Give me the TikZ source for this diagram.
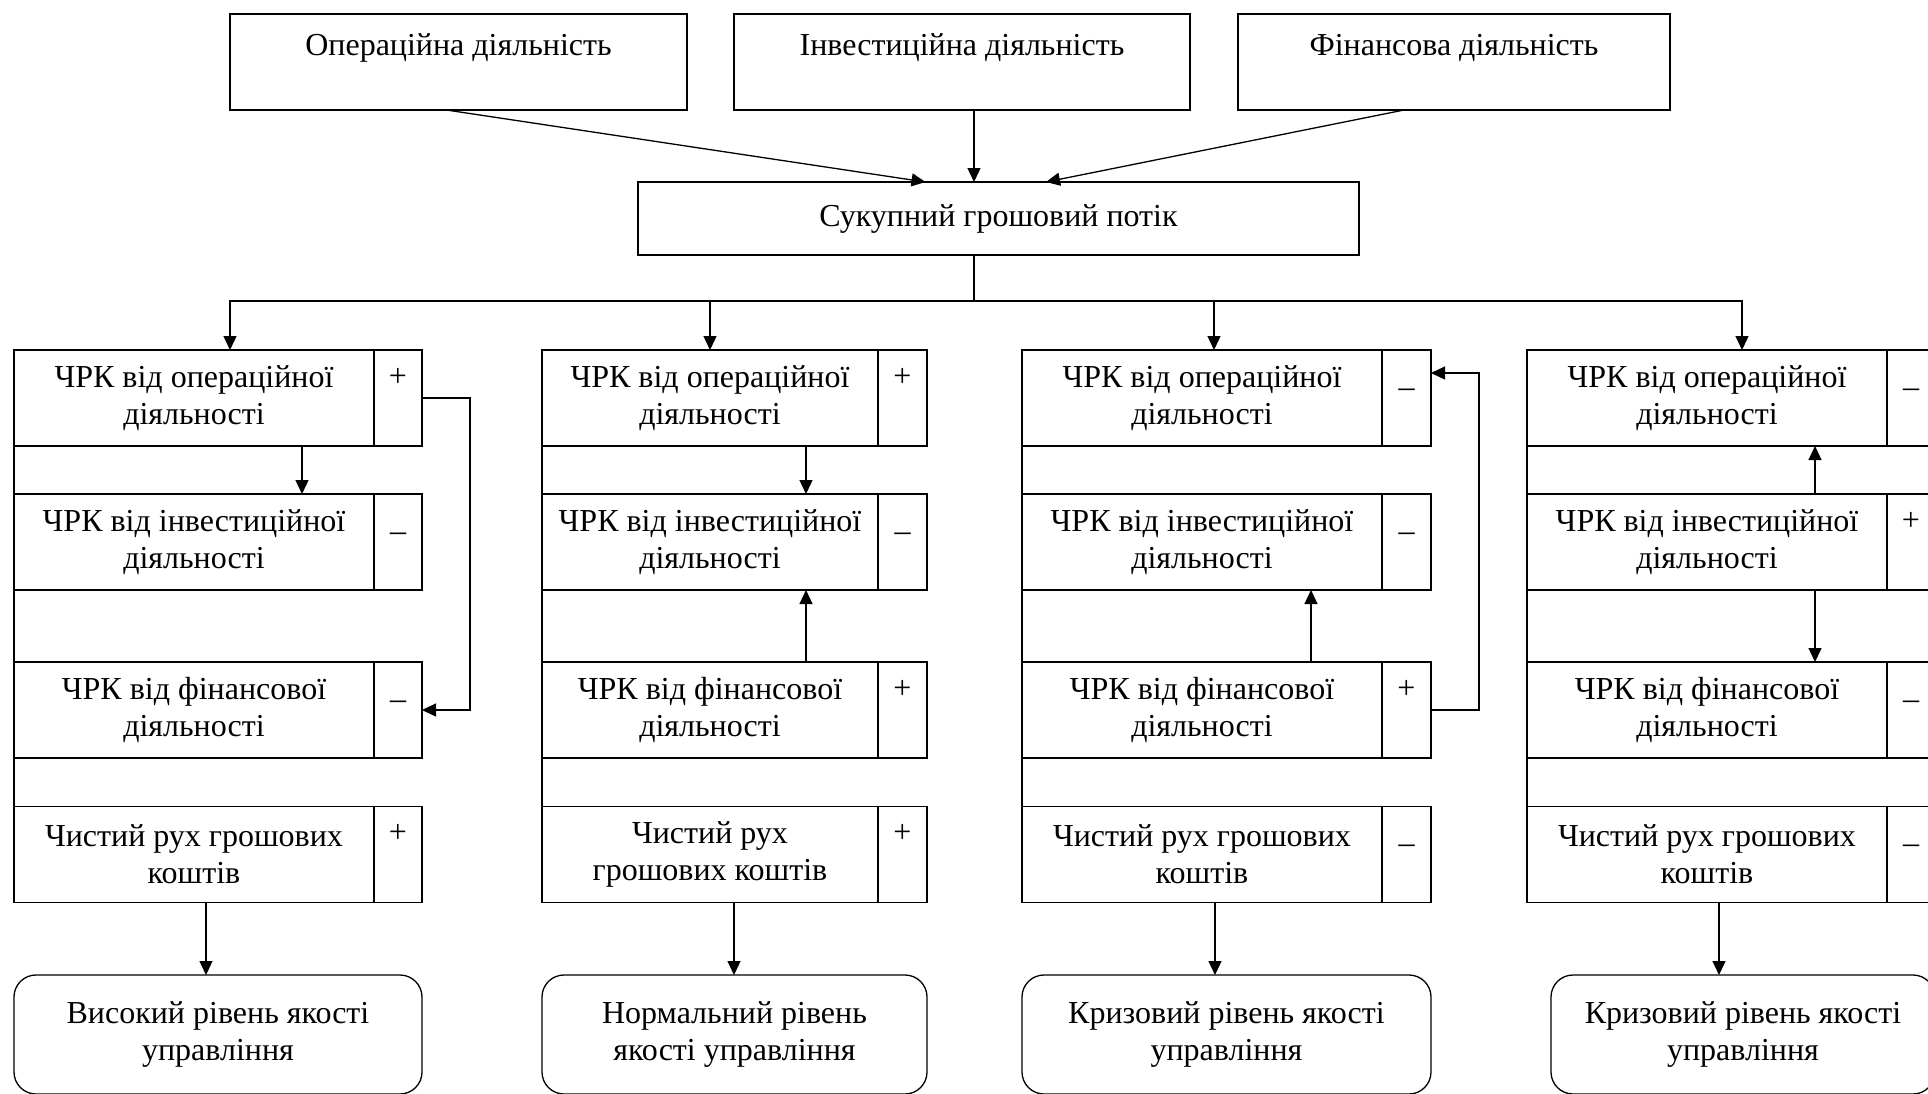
\documentclass[tikz,border=0pt]{standalone}
\usepackage{fontspec}
\setmainfont{Liberation Serif}
\usetikzlibrary{arrows.meta}

\begin{document}
\begin{tikzpicture}[x=1pt, y=-1pt, line width=1.3pt,
  every node/.style={draw, inner sep=0pt, outer sep=0pt, align=center, font=\fontsize{32}{37}\selectfont},
  topbox/.style={minimum height=96pt, text height=41pt, text depth=55pt},
  rowbox/.style={minimum width=360pt, minimum height=96pt},
  signbox/.style={minimum width=48pt, minimum height=96pt, text height=36pt, text depth=60pt},
  resbox/.style={rounded corners=22pt, minimum height=119pt},
  arr/.style={-{Triangle[length=14pt, width=13pt]}}]
\useasboundingbox (0,0) rectangle (1928,1093);

\node[topbox, minimum width=457pt] (op) at (458.5,62) {Операційна діяльність};
\node[topbox, minimum width=456pt] (inv) at (962,62) {Інвестиційна діяльність};
\node[topbox, minimum width=432pt] (fin) at (1454,62) {Фінансова діяльність};
\node[minimum width=721pt, minimum height=73pt] (sum) at (998.5,218.5) {Сукупний грошовий потік};

\draw[arr] ([xshift=-12pt]op.south) -- ([xshift=-73pt]sum.north);
\draw[arr] ([xshift=12pt]inv.south) -- ([xshift=-24.5pt]sum.north);
\draw[arr] ([xshift=-50pt]fin.south) -- ([xshift=47.5pt]sum.north);

% column 1
\node[rowbox] (c1a) at (194,398) {ЧРК від операційної\\діяльності};
\node[signbox] (c1as) at (398,398) {+};
\node[rowbox] (c1b) at (194,542) {ЧРК від інвестиційної\\діяльності};
\node[signbox] (c1bs) at (398,542) {\_};
\node[rowbox] (c1c) at (194,710) {ЧРК від фінансової\\діяльності};
\node[signbox] (c1cs) at (398,710) {\_};
\node[rowbox] (c1d) at (194,854.5) {Чистий рух грошових\\коштів};
\node[signbox] (c1ds) at (398,854.5) {+};
\node[resbox, minimum width=408pt] (res1) at (218,1034.5) {Високий рівень якості\\управління};

% column 2
\node[rowbox, minimum width=336pt] (c2a) at (710,398) {ЧРК від операційної\\діяльності};
\node[signbox, minimum width=49pt] (c2as) at (902.5,398) {+};
\node[rowbox, minimum width=336pt] (c2b) at (710,542) {ЧРК від інвестиційної\\діяльності};
\node[signbox, minimum width=49pt] (c2bs) at (902.5,542) {\_};
\node[rowbox, minimum width=336pt] (c2c) at (710,710) {ЧРК від фінансової\\діяльності};
\node[signbox, minimum width=49pt] (c2cs) at (902.5,710) {+};
\node[rowbox, minimum width=336pt] (c2d) at (710,854.5) {Чистий рух\\грошових коштів};
\node[signbox, minimum width=49pt] (c2ds) at (902.5,854.5) {+};
\node[resbox, minimum width=385pt] (res2) at (734.5,1034.5) {Нормальний рівень\\якості управління};

% column 3
\node[rowbox] (c3a) at (1202,398) {ЧРК від операційної\\діяльності};
\node[signbox, minimum width=49pt] (c3as) at (1406.5,398) {\_};
\node[rowbox] (c3b) at (1202,542) {ЧРК від інвестиційної\\діяльності};
\node[signbox, minimum width=49pt] (c3bs) at (1406.5,542) {\_};
\node[rowbox] (c3c) at (1202,710) {ЧРК від фінансової\\діяльності};
\node[signbox, minimum width=49pt] (c3cs) at (1406.5,710) {+};
\node[rowbox] (c3d) at (1202,854.5) {Чистий рух грошових\\коштів};
\node[signbox, minimum width=49pt] (c3ds) at (1406.5,854.5) {\_};
\node[resbox, minimum width=409pt] (res3) at (1226.5,1034.5) {Кризовий рівень якості\\управління};

% column 4
\node[rowbox] (c4a) at (1707,398) {ЧРК від операційної\\діяльності};
\node[signbox] (c4as) at (1911,398) {\_};
\node[rowbox] (c4b) at (1707,542) {ЧРК від інвестиційної\\діяльності};
\node[signbox] (c4bs) at (1911,542) {+};
\node[rowbox] (c4c) at (1707,710) {ЧРК від фінансової\\діяльності};
\node[signbox] (c4cs) at (1911,710) {\_};
\node[rowbox] (c4d) at (1707,854.5) {Чистий рух грошових\\коштів};
\node[signbox] (c4ds) at (1911,854.5) {\_};
\node[resbox, minimum width=384pt] (res4) at (1743,1034.5) {Кризовий рівень якості\\управління};

% distribution
\coordinate (split) at (974,301);
\draw ([xshift=-24.5pt]sum.south) -- (split);
\draw[arr] (split) -| ([xshift=36pt]c1a.north);
\draw[arr] (split) -| (c2a.north);
\draw[arr] (split) -| ([xshift=12pt]c3a.north);
\draw[arr] (split) -| ([xshift=35pt]c4a.north);

% left lines
\draw (c1a.south west) -- (c1d.north west);
\draw (c2a.south west) -- (c2d.north west);
\draw (c3a.south west) -- (c3d.north west);
\draw (c4a.south west) -- (c4d.north west);

% links inside columns
\draw[arr] ([xshift=108pt]c1a.south) -- ([xshift=108pt]c1b.north);
\draw[arr] (c1as.east) -- ++(48,0) |- (c1cs.east);
\draw[arr] ([xshift=96pt]c2a.south) -- ([xshift=96pt]c2b.north);
\draw[arr] ([xshift=96pt]c2c.north) -- ([xshift=96pt]c2b.south);
\draw[arr] ([xshift=109pt]c3c.north) -- ([xshift=109pt]c3b.south);
\draw[arr] (c3cs.east) -- ++(48,0) |- ([yshift=25pt]c3as.east);
\draw[arr] ([xshift=108pt]c4b.north) -- ([xshift=108pt]c4a.south);
\draw[arr] ([xshift=108pt]c4b.south) -- ([xshift=108pt]c4c.north);

% results
\draw[arr] ([xshift=12pt]c1d.south) -- ([xshift=12pt]c1d.south |- res1.north);
\draw[arr] ([xshift=24pt]c2d.south) -- ([xshift=24pt]c2d.south |- res2.north);
\draw[arr] ([xshift=13pt]c3d.south) -- ([xshift=13pt]c3d.south |- res3.north);
\draw[arr] ([xshift=12pt]c4d.south) -- ([xshift=12pt]c4d.south |- res4.north);
\end{tikzpicture}
\end{document}
